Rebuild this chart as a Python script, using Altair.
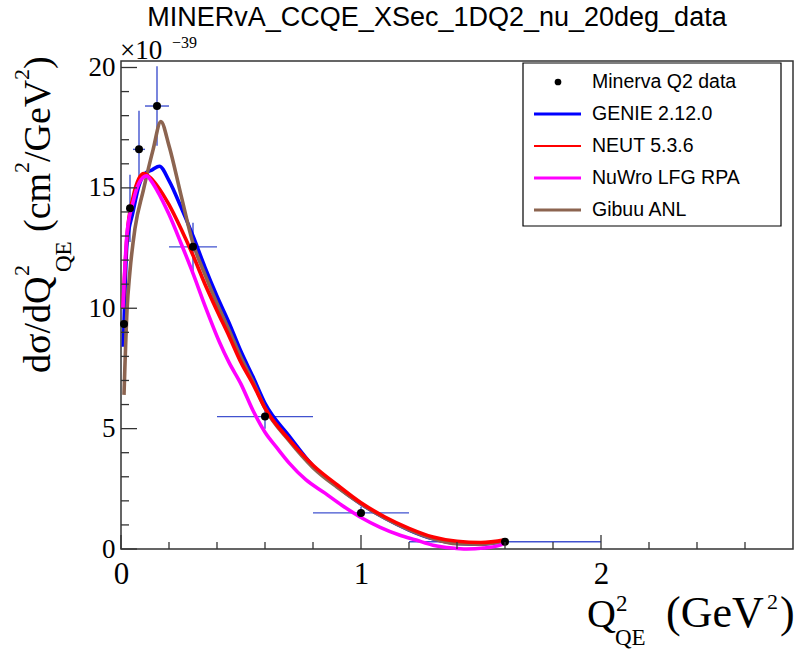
import altair as alt
import pandas as pd

# ---- MINERvA CCQE dsigma/dQ2 (20 deg) data, units of 1e-39 cm^2/GeV^2 ----
q_center = [0.0125, 0.0375, 0.075, 0.15, 0.3, 0.6, 1.0, 1.6]
q_low = [0.0, 0.025, 0.05, 0.1, 0.2, 0.4, 0.8, 1.2]
q_high = [0.025, 0.05, 0.1, 0.2, 0.4, 0.8, 1.2, 2.0]
xsec = [9.35, 14.15, 16.6, 18.4, 12.55, 5.5, 1.5, 0.3]
xsec_err = [0.9, 1.4, 1.6, 1.65, 1.0, 0.5, 0.25, 0.05]

# ---- generator predictions ----
genie_q = [0.01, 0.025, 0.05, 0.075, 0.1, 0.13, 0.16, 0.2, 0.25, 0.3, 0.35, 0.4, 0.45,
           0.5, 0.55, 0.6, 0.7, 0.8, 0.9, 1.0, 1.1, 1.2, 1.3, 1.4, 1.5, 1.6]
genie_v = [8.4, 12.7, 14.0, 15.1, 15.6, 15.75, 15.9, 15.3, 14.2, 13.0, 11.7, 10.5, 9.4,
           8.2, 7.15, 6.05, 4.7, 3.45, 2.6, 1.87, 1.28, 0.79, 0.42, 0.23, 0.2, 0.33]

neut_q = [0.008, 0.025, 0.05, 0.075, 0.095, 0.125, 0.15, 0.2, 0.25, 0.3, 0.35, 0.4, 0.45,
          0.5, 0.55, 0.6, 0.7, 0.8, 0.9, 1.0, 1.1, 1.2, 1.3, 1.4, 1.5, 1.6]
neut_v = [10.0, 13.0, 14.6, 15.4, 15.6, 15.4, 15.1, 14.3, 13.3, 12.2, 11.0, 9.9, 8.85,
          7.75, 6.85, 5.85, 4.55, 3.48, 2.67, 1.92, 1.33, 0.86, 0.5, 0.32, 0.27, 0.38]

nuwro_q = [0.008, 0.025, 0.05, 0.075, 0.107, 0.125, 0.15, 0.2, 0.25, 0.3, 0.35, 0.41,
           0.45, 0.5, 0.55, 0.6, 0.65, 0.7, 0.77, 0.85, 0.92, 1.0, 1.08, 1.16, 1.23, 1.3,
           1.38, 1.44, 1.51, 1.58, 1.6]
nuwro_v = [10.0, 13.1, 14.4, 15.2, 15.5, 15.3, 14.9, 13.9, 12.7, 11.45, 10.1, 8.6,
           7.75, 6.85, 5.75, 4.85, 4.2, 3.58, 2.88, 2.32, 1.82, 1.31, 0.9, 0.58, 0.37, 0.16,
           0.04, 0.0, 0.04, 0.16, 0.25]

gibuu_q = [0.0125, 0.025, 0.037, 0.058, 0.093, 0.134, 0.166, 0.2, 0.25, 0.3, 0.35, 0.4,
           0.45, 0.5, 0.55, 0.6, 0.7, 0.8, 0.9, 1.0, 1.1, 1.2, 1.3, 1.4, 1.5, 1.6]
gibuu_v = [6.4, 9.9, 11.5, 13.3, 14.9, 16.6, 17.75, 16.75, 14.7, 12.7, 11.4, 10.2,
           9.1, 7.95, 6.95, 5.85, 4.5, 3.38, 2.57, 1.87, 1.28, 0.8, 0.43, 0.22, 0.2, 0.32]

legend_names = ["Minerva Q2 data", "GENIE 2.12.0", "NEUT 5.3.6", "NuWro LFG RPA", "Gibuu ANL"]
line_colors = ["#0000ff", "#ff0000", "#ff00ff", "#8c6450"]

x_major = [0, 1, 2]
x_minor = [0.2, 0.4, 0.6, 0.8, 1.2, 1.4, 1.6, 1.8, 2.2, 2.4, 2.6]
y_major = [0, 5, 10, 15, 20]
y_minor = [v for v in range(1, 20) if v % 5]

# ---- layout (pixels) ----
LEFT, TOP = 121, 61
W, H = 672, 488
FRAME = "#333333"
ERR = "#4152cf"

xs = alt.Scale(domain=[0, 2.8], nice=False, zero=False)
ys = alt.Scale(domain=[0, 20.27], nice=False, zero=False)

data = pd.DataFrame({"q": q_center, "lo": q_low, "hi": q_high, "v": xsec,
                     "vlo": [a - b for a, b in zip(xsec, xsec_err)],
                     "vhi": [a + b for a, b in zip(xsec, xsec_err)]})

base = alt.Chart(data)
xbars = base.mark_rule(color=ERR, strokeWidth=1.4).encode(
    x=alt.X("lo:Q", scale=xs,
            axis=alt.Axis(values=x_major, title=None, ticks=False, domain=False, grid=False,
                          labelFont="Liberation Serif", labelFontSize=31, labelColor="black",
                          labelPadding=10, labelFlush=False, format="d")),
    x2="hi:Q",
    y=alt.Y("v:Q", scale=ys,
            axis=alt.Axis(values=y_major, title=None, ticks=False, domain=False, grid=False,
                          labelFont="Liberation Serif", labelFontSize=27, labelColor="black",
                          labelPadding=6, labelFlush=False, format="d")),
)
ybars = base.mark_rule(color=ERR, strokeWidth=1.4).encode(x="q:Q", y="vlo:Q", y2="vhi:Q")
points = base.mark_circle(color="black", opacity=1, size=64).encode(x="q:Q", y="v:Q")


def curve(qv, vv, color):
    df = pd.DataFrame({"q": qv, "v": vv})
    return alt.Chart(df).mark_line(color=color, strokeWidth=3.6, interpolate="monotone").encode(
        x="q:Q", y="v:Q")


curves = [curve(genie_q, genie_v, line_colors[0]),
          curve(gibuu_q, gibuu_v, line_colors[3]),
          curve(neut_q, neut_v, line_colors[1]),
          curve(nuwro_q, nuwro_v, line_colors[2])]


# inward ticks, ROOT style
def xticks(vals, length):
    return alt.Chart(pd.DataFrame({"t": vals})).mark_rule(color=FRAME, strokeWidth=1.3).encode(
        x="t:Q", y=alt.value(H), y2=alt.value(H - length))


def yticks(vals, length):
    return alt.Chart(pd.DataFrame({"t": vals})).mark_rule(color=FRAME, strokeWidth=1.3).encode(
        y="t:Q", x=alt.value(0), x2=alt.value(length))


ticks = [xticks(x_major, 14), xticks(x_minor, 7), yticks(y_major, 16), yticks(y_minor, 8)]

one = pd.DataFrame({"a": [0]})


def label(text, x, y, size, angle=0, font="Liberation Serif", align="left", baseline="alphabetic"):
    return alt.Chart(one).mark_text(text=text, font=font, fontSize=size, angle=angle, align=align,
                                    baseline=baseline, color="black").encode(
        x=alt.value(x - LEFT), y=alt.value(y - TOP))


texts = [
    label("MINERvA_CCQE_XSec_1DQ2_nu_20deg_data", 437, 26, 27, font="Liberation Sans",
          align="center"),
    label("\u00d710", 120, 59, 27),
    label("\u221239", 172, 48, 16),
    # x title
    label("Q", 587, 627, 40),
    label("2", 616, 611, 23),
    label("QE", 615, 645, 23),
    label("(GeV", 666, 627, 44),
    label("2", 767, 609, 22),
    label(")", 780, 627, 44),
    # y title (rotated)
    label("d\u03c3/dQ", 50, 373, 38, angle=270),
    label("2", 29, 276, 22, angle=270),
    label("QE", 71, 272, 23, angle=270),
    label("(cm", 50, 232, 38, angle=270),
    label("2", 29, 173, 22, angle=270),
    label("/GeV", 50, 162, 38, angle=270),
    label("2", 29, 80, 22, angle=270),
    label(")", 50, 69, 38, angle=270),
]

# legend box
lx0, lx1, ly0, ly1 = 523, 781, 63, 226
legend = [alt.Chart(one).mark_rect(fill="white", stroke="black", strokeWidth=1.2).encode(
    x=alt.value(lx0 - LEFT), x2=alt.value(lx1 - LEFT),
    y=alt.value(ly0 - TOP), y2=alt.value(ly1 - TOP))]
for i, name in enumerate(legend_names):
    ry = 82 + 32 * i
    if i == 0:
        legend.append(alt.Chart(one).mark_circle(color="black", opacity=1, size=45).encode(
            x=alt.value(558 - LEFT), y=alt.value(ry - TOP)))
    else:
        legend.append(alt.Chart(one).mark_rule(color=line_colors[i - 1],
                                               strokeWidth=2.2 if i == 2 else 3).encode(
            x=alt.value(534 - LEFT), x2=alt.value(581 - LEFT), y=alt.value(ry - TOP)))
    legend.append(label(name, 592, ry, 19.5, font="Liberation Sans", baseline="middle"))

chart = alt.layer(xbars, ybars, *curves, points, *ticks, *legend, *texts).properties(
    width=W, height=H,
    autosize=alt.AutoSizeParams(type="none"),
    padding={"left": LEFT, "top": TOP, "right": 801 - LEFT - W, "bottom": 649 - TOP - H},
    background="white",
).configure_view(stroke=FRAME, strokeWidth=1.5)

chart.save("out.html", embed_options={"renderer": "svg", "actions": False})
